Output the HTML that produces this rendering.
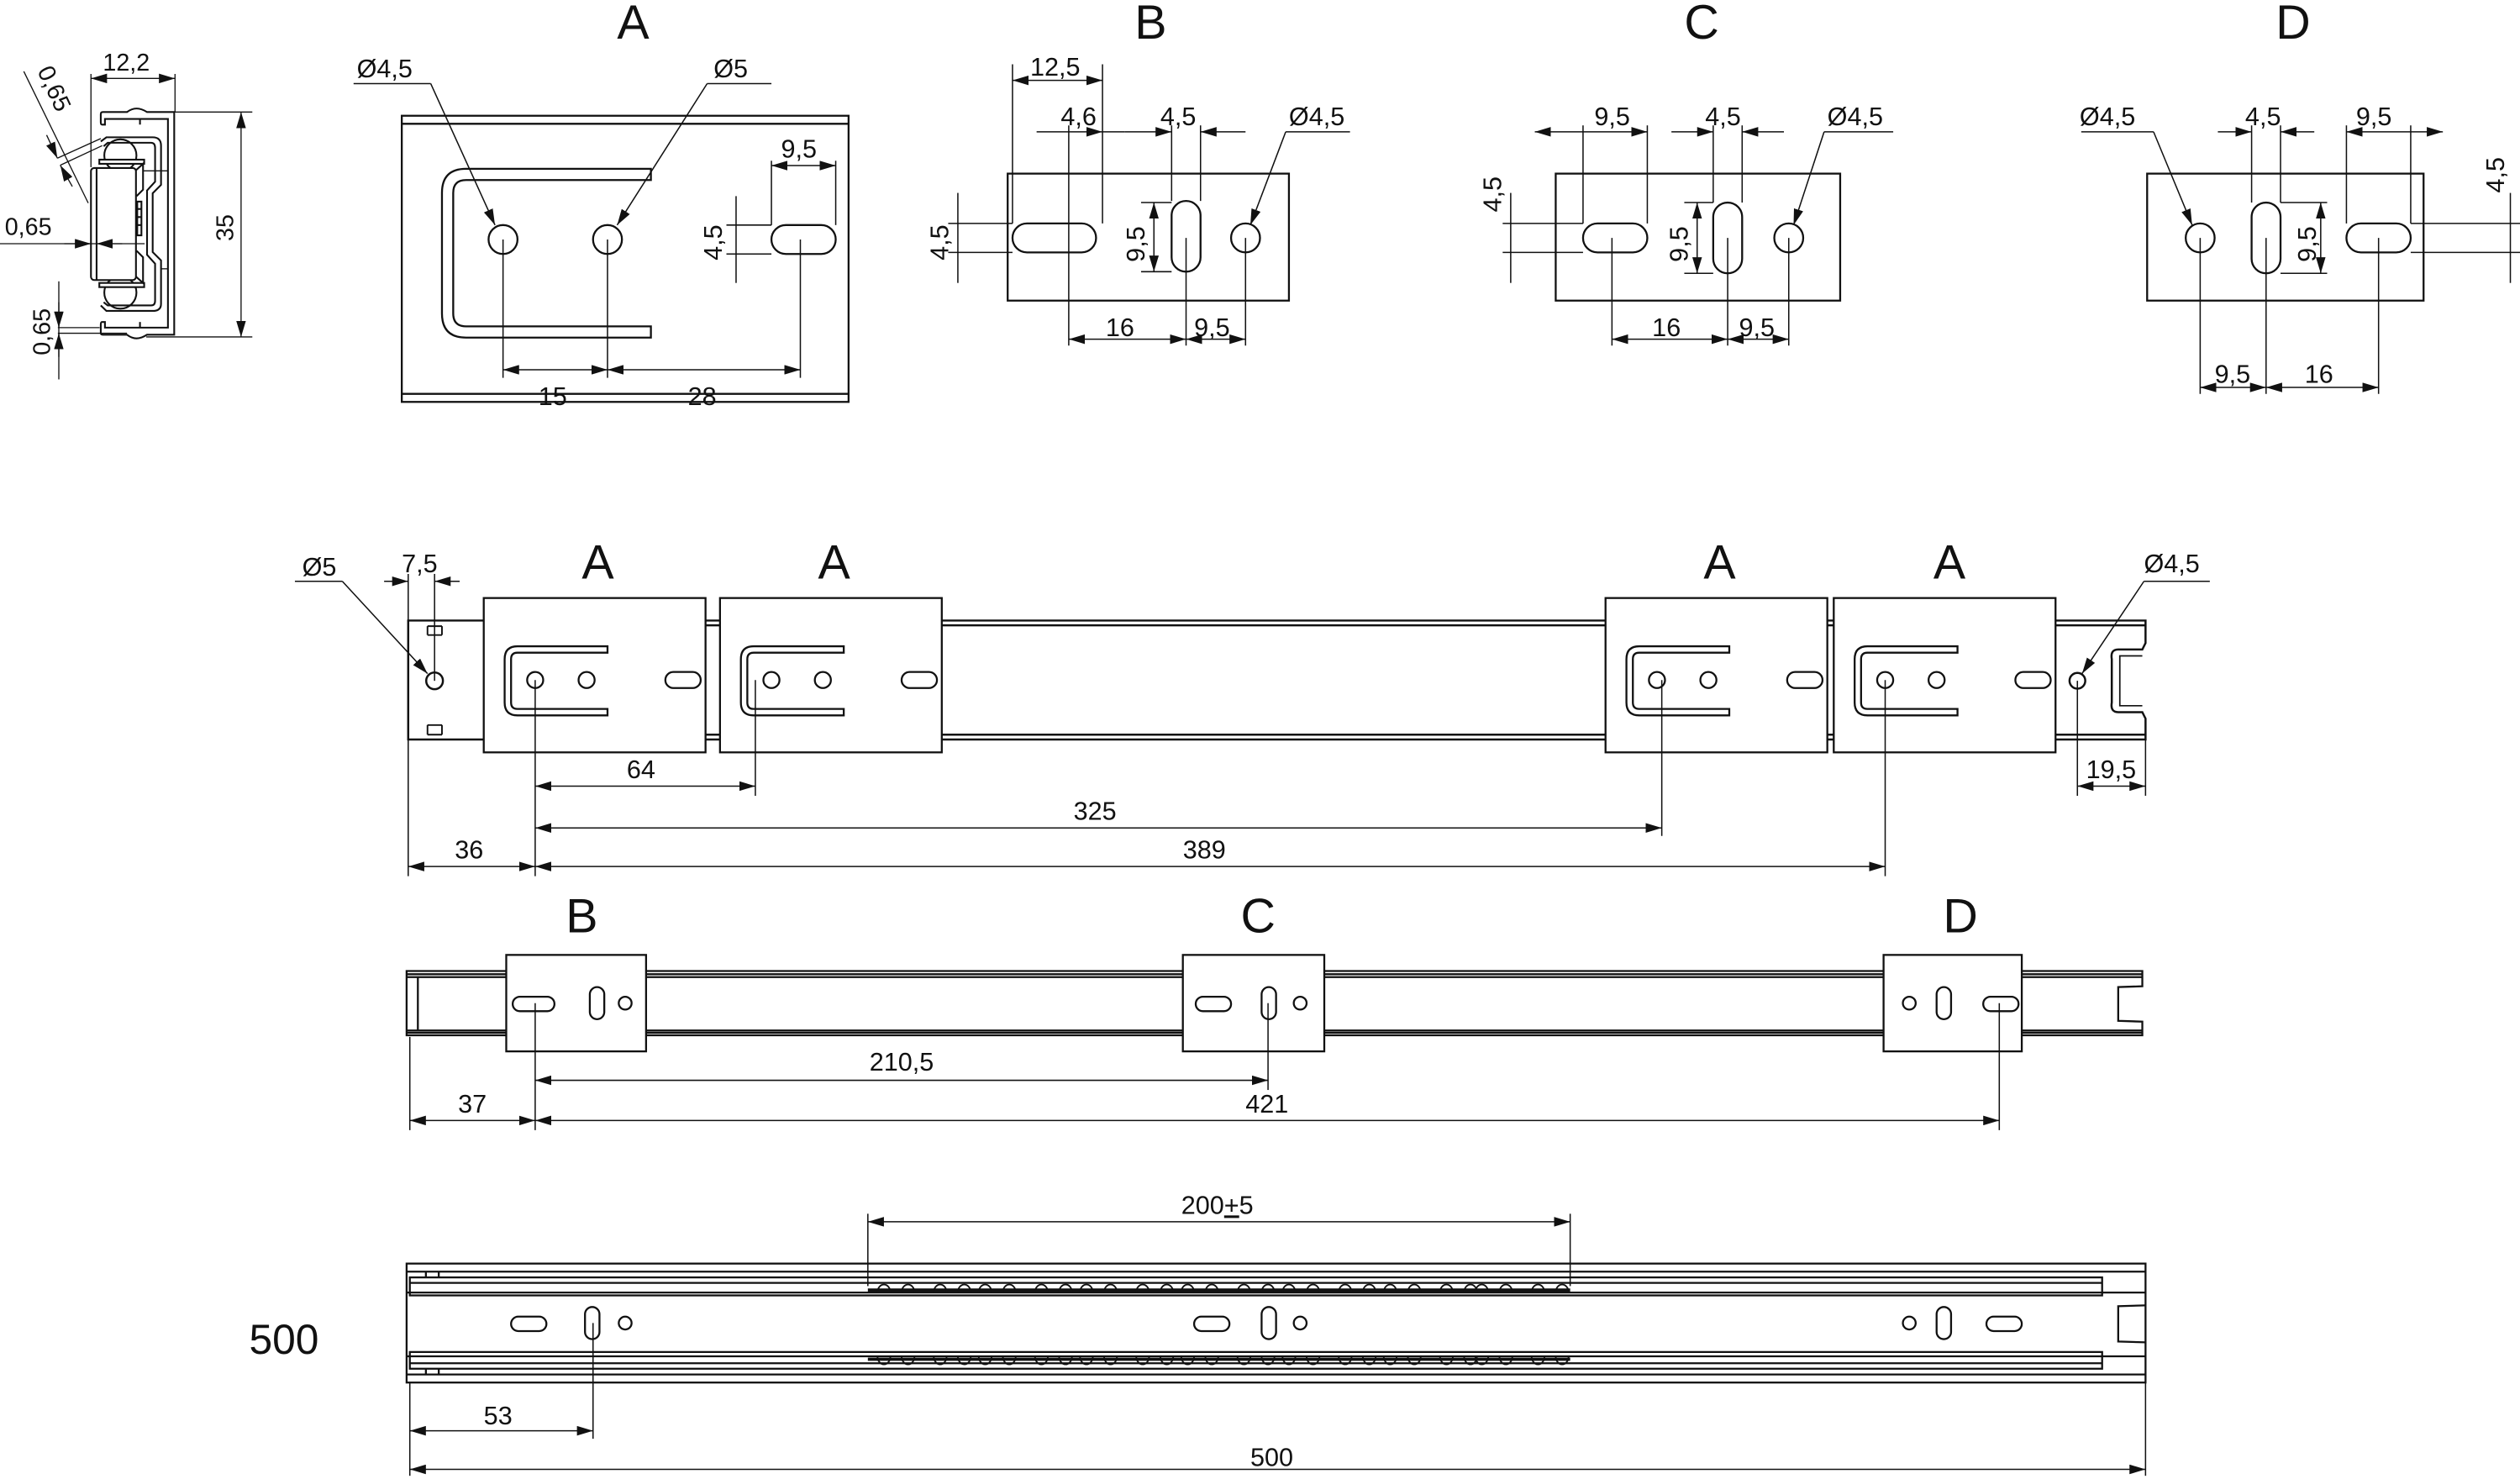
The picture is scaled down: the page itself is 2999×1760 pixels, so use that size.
<!DOCTYPE html>
<html><head><meta charset="utf-8"><style>
html,body{margin:0;padding:0;background:#fff;}
svg{display:block;}
text{font-family:"Liberation Sans",sans-serif;fill:#111;}
</style></head><body>
<svg width="2999" height="1760" viewBox="0 0 1568 920" preserveAspectRatio="none" xmlns="http://www.w3.org/2000/svg">
<defs>
<marker id="a" viewBox="0 0 10 6" refX="10" refY="3" markerWidth="10" markerHeight="6" orient="auto-start-reverse" markerUnits="userSpaceOnUse"><path d="M0,0 L10,3 L0,6 z" fill="#111"/></marker>
</defs>
<!-- profile -->
<g fill="none" stroke="#111" stroke-width="1.1">
<path d="M65.3,77.5 H63.5 Q62.7,77.5 62.7,76 V71 Q62.7,69.7 64,69.7 H79 Q82,67.5 85,67.5 Q88,67.5 91.5,69.7 H108.4 V208.2 H91.5 Q88,210.5 85,210.5 Q82,210.5 79,208.2 H64 Q62.7,208.2 62.7,207 V202 Q62.7,200.3 63.5,200.3 H65.3 V203.8 H104.5 V74 H65.3 Z"/>
<line x1="87.1" y1="74" x2="87.1" y2="77.5"/><line x1="87.1" y1="200.3" x2="87.1" y2="203.8"/>
<path d="M62.7,88 L66.2,85.4 H95 Q100.2,85.4 100.2,90.6 V115 L95,120.2 V156.8 L100.2,162 V189 Q100.2,193.4 95,193.4 H66.2 L62.7,190"/>
<path d="M64.5,91 L67,88.8 H94 Q96.5,88.8 96.5,92 V113 L91.5,118.5 V158.5 L96.5,164 V187 Q96.5,190 94,190 H67 L64.5,188"/>
<circle cx="74.9" cy="96.7" r="10"/><circle cx="74.9" cy="182" r="10"/>
<rect x="56.6" y="104.5" width="28" height="69.7" rx="2" fill="#fff"/>
<line x1="60.1" y1="104.5" x2="60.1" y2="174.2"/>
<rect x="61.8" y="99.3" width="27.9" height="2.6" fill="#fff"/>
<rect x="61.8" y="176" width="27.9" height="2.6" fill="#fff"/>
<path d="M84.5,106 L89,101.9 V118 L85,122"/><path d="M84.5,172 L89,176 V160 L85,156"/>
<rect x="85.4" y="125.4" width="2.6" height="21"/>
<path d="M85.4,130 H88 M85.4,135 H88 M85.4,140 H88"/>
</g>
<g fill="none" stroke="#111" stroke-width="0.7">
<line x1="89" y1="106.3" x2="104.5" y2="106.3"/><line x1="100" y1="167.2" x2="104.5" y2="167.2"/>
<line x1="56.6" y1="46" x2="56.6" y2="104"/><line x1="108.9" y1="46" x2="108.9" y2="69.7"/>
<line x1="56.6" y1="48.8" x2="108.9" y2="48.8" marker-start="url(#a)" marker-end="url(#a)"/>
<line x1="108.4" y1="69.7" x2="157" y2="69.7"/><line x1="91" y1="209.6" x2="157" y2="209.6"/>
<line x1="150" y1="69.7" x2="150" y2="209.6" marker-start="url(#a)" marker-end="url(#a)"/>
<line x1="0" y1="151.6" x2="90" y2="151.6"/>
<line x1="40" y1="151.6" x2="56.6" y2="151.6" marker-end="url(#a)"/><line x1="76" y1="151.6" x2="60.1" y2="151.6" marker-end="url(#a)"/>
<line x1="36.6" y1="175" x2="36.6" y2="236"/>
<line x1="36.6" y1="188" x2="36.6" y2="203.8" marker-end="url(#a)"/><line x1="36.6" y1="222" x2="36.6" y2="207.3" marker-end="url(#a)"/>
<line x1="36" y1="203.8" x2="62" y2="203.8"/><line x1="36" y1="207.3" x2="79" y2="207.3"/>
<line x1="14.8" y1="44.4" x2="54.9" y2="126.3"/>
<line x1="29" y1="84" x2="35.7" y2="98.4" marker-end="url(#a)"/><line x1="45" y1="116" x2="37.5" y2="102.8" marker-end="url(#a)"/>
<line x1="35.7" y1="98.4" x2="62.7" y2="86.2"/><line x1="37.5" y1="102.8" x2="63.6" y2="90.6"/>
</g>
<g font-size="15">
<text x="64" y="44">12,2</text>
<text x="3" y="146">0,65</text>
<text transform="translate(145,150) rotate(-90)">35</text>
<text transform="translate(31,221) rotate(-90)">0,65</text>
<text transform="translate(23,44) rotate(65)">0,65</text>
</g>

<!-- Detail A -->
<text x="384" y="24" font-size="30">A</text>
<g fill="none" stroke="#111" stroke-width="1.2">
<rect x="250" y="72" width="278" height="178"/>
<line x1="250" y1="77" x2="528" y2="77"/><line x1="250" y1="245" x2="528" y2="245"/>
<path d="M405,105 H290 Q275,105 275,120 V195 Q275,210 290,210 H405 V203 H290 Q282,203 282,195 V120 Q282,112 290,112 H405 Z"/>
<circle cx="313" cy="149" r="9"/><circle cx="378" cy="149" r="9"/>
<rect x="480" y="140" width="40" height="18" rx="9"/>
</g>
<g fill="none" stroke="#111" stroke-width="0.8">
<line x1="313" y1="149" x2="313" y2="235"/><line x1="378" y1="149" x2="378" y2="235"/><line x1="498" y1="149" x2="498" y2="235"/>
<line x1="313" y1="230" x2="378" y2="230" marker-start="url(#a)" marker-end="url(#a)"/>
<line x1="378" y1="230" x2="498" y2="230" marker-start="url(#a)" marker-end="url(#a)"/>
<line x1="480" y1="100" x2="480" y2="140"/><line x1="520" y1="100" x2="520" y2="140"/>
<line x1="480" y1="103" x2="520" y2="103" marker-start="url(#a)" marker-end="url(#a)"/>
<line x1="452" y1="140" x2="480" y2="140"/><line x1="452" y1="158" x2="480" y2="158"/>
<line x1="458" y1="122" x2="458" y2="176"/>
<line x1="220" y1="52" x2="268" y2="52"/><line x1="268" y1="52" x2="308" y2="140" marker-end="url(#a)"/>
<line x1="440" y1="52" x2="480" y2="52"/><line x1="440" y1="52" x2="384" y2="140" marker-end="url(#a)"/>
</g>
<g font-size="16">
<text x="222" y="48">Ø4,5</text><text x="444" y="48">Ø5</text>
<text x="335" y="252">15</text><text x="428" y="252">28</text>
<text x="486" y="98">9,5</text>
<text transform="translate(449,162) rotate(-90)">4,5</text>
</g>

<!-- Detail B -->
<text x="706" y="24" font-size="30">B</text>
<g fill="none" stroke="#111" stroke-width="1.2">
<rect x="627" y="108" width="175" height="79"/>
<rect x="630" y="139" width="52" height="18" rx="9"/>
<rect x="729" y="125" width="18" height="44" rx="9"/>
<circle cx="775" cy="148" r="9"/>
</g>
<g fill="none" stroke="#111" stroke-width="0.8">
<line x1="630" y1="40" x2="630" y2="139"/><line x1="686" y1="40" x2="686" y2="139"/>
<line x1="630" y1="50" x2="686" y2="50" marker-start="url(#a)" marker-end="url(#a)"/>
<line x1="665" y1="78" x2="665" y2="215"/>
<line x1="645" y1="82" x2="686" y2="82" marker-end="url(#a)"/><line x1="686" y1="82" x2="700" y2="82"/>
<line x1="729" y1="78" x2="729" y2="125"/><line x1="747" y1="78" x2="747" y2="125"/>
<line x1="700" y1="82" x2="729" y2="82" marker-end="url(#a)"/><line x1="747" y1="82" x2="775" y2="82" marker-start="url(#a)"/>
<line x1="738" y1="148" x2="738" y2="215"/><line x1="775" y1="148" x2="775" y2="215"/>
<line x1="665" y1="211" x2="738" y2="211" marker-start="url(#a)" marker-end="url(#a)"/>
<line x1="738" y1="211" x2="775" y2="211" marker-start="url(#a)" marker-end="url(#a)"/>
<line x1="590" y1="139" x2="630" y2="139"/><line x1="590" y1="157" x2="630" y2="157"/>
<line x1="596" y1="120" x2="596" y2="176"/>
<line x1="710" y1="126" x2="729" y2="126"/><line x1="710" y1="169" x2="729" y2="169"/>
<line x1="718" y1="126" x2="718" y2="169" marker-start="url(#a)" marker-end="url(#a)"/>
<line x1="800" y1="82" x2="840" y2="82"/><line x1="800" y1="82" x2="778" y2="140" marker-end="url(#a)"/>
</g>
<g font-size="16">
<text x="641" y="47">12,5</text><text x="660" y="78">4,6</text><text x="722" y="78">4,5</text>
<text x="802" y="78">Ø4,5</text>
<text x="688" y="209">16</text><text x="743" y="209">9,5</text>
<text transform="translate(590,162) rotate(-90)">4,5</text>
<text transform="translate(712,163) rotate(-90)">9,5</text>
</g>

<!-- Detail C -->
<text x="1048" y="24" font-size="30">C</text>
<g fill="none" stroke="#111" stroke-width="1.2">
<rect x="968" y="108" width="177" height="79"/>
<rect x="985" y="139" width="40" height="18" rx="9"/>
<rect x="1066" y="126" width="18" height="44" rx="9"/>
<circle cx="1113" cy="148" r="9"/>
</g>
<g fill="none" stroke="#111" stroke-width="0.8">
<line x1="985" y1="78" x2="985" y2="139"/><line x1="1025" y1="78" x2="1025" y2="139"/>
<line x1="955" y1="82" x2="1025" y2="82" marker-start="url(#a)" marker-end="url(#a)"/>
<line x1="1066" y1="78" x2="1066" y2="126"/><line x1="1084" y1="78" x2="1084" y2="126"/>
<line x1="1040" y1="82" x2="1066" y2="82" marker-end="url(#a)"/><line x1="1084" y1="82" x2="1110" y2="82" marker-start="url(#a)"/>
<line x1="1003" y1="148" x2="1003" y2="215"/><line x1="1075" y1="148" x2="1075" y2="215"/><line x1="1113" y1="148" x2="1113" y2="215"/>
<line x1="1003" y1="211" x2="1075" y2="211" marker-start="url(#a)" marker-end="url(#a)"/>
<line x1="1075" y1="211" x2="1113" y2="211" marker-start="url(#a)" marker-end="url(#a)"/>
<line x1="935" y1="139" x2="985" y2="139"/><line x1="935" y1="157" x2="985" y2="157"/>
<line x1="940" y1="120" x2="940" y2="176"/>
<line x1="1048" y1="126" x2="1066" y2="126"/><line x1="1048" y1="170" x2="1066" y2="170"/>
<line x1="1056" y1="126" x2="1056" y2="170" marker-start="url(#a)" marker-end="url(#a)"/>
<line x1="1135" y1="82" x2="1178" y2="82"/><line x1="1135" y1="82" x2="1116" y2="140" marker-end="url(#a)"/>
</g>
<g font-size="16">
<text x="992" y="78">9,5</text><text x="1061" y="78">4,5</text><text x="1137" y="78">Ø4,5</text>
<text x="1028" y="209">16</text><text x="1082" y="209">9,5</text>
<text transform="translate(934,132) rotate(-90)">4,5</text>
<text transform="translate(1050,163) rotate(-90)">9,5</text>
</g>

<!-- Detail D -->
<text x="1416" y="24" font-size="30">D</text>
<g fill="none" stroke="#111" stroke-width="1.2">
<rect x="1336" y="108" width="172" height="79"/>
<circle cx="1369" cy="148" r="9"/>
<rect x="1401" y="126" width="18" height="44" rx="9"/>
<rect x="1460" y="139" width="40" height="18" rx="9"/>
</g>
<g fill="none" stroke="#111" stroke-width="0.8">
<line x1="1401" y1="78" x2="1401" y2="126"/><line x1="1419" y1="78" x2="1419" y2="126"/>
<line x1="1380" y1="82" x2="1401" y2="82" marker-end="url(#a)"/><line x1="1419" y1="82" x2="1440" y2="82" marker-start="url(#a)"/>
<line x1="1460" y1="78" x2="1460" y2="139"/><line x1="1500" y1="78" x2="1500" y2="139"/>
<line x1="1460" y1="82" x2="1520" y2="82" marker-start="url(#a)" marker-end="url(#a)"/>
<line x1="1369" y1="148" x2="1369" y2="245"/><line x1="1410" y1="148" x2="1410" y2="245"/><line x1="1480" y1="148" x2="1480" y2="245"/>
<line x1="1369" y1="241" x2="1410" y2="241" marker-start="url(#a)" marker-end="url(#a)"/>
<line x1="1410" y1="241" x2="1480" y2="241" marker-start="url(#a)" marker-end="url(#a)"/>
<line x1="1500" y1="139" x2="1568" y2="139"/><line x1="1500" y1="157" x2="1568" y2="157"/>
<line x1="1562" y1="120" x2="1562" y2="176"/>
<line x1="1419" y1="126" x2="1448" y2="126"/><line x1="1419" y1="170" x2="1448" y2="170"/>
<line x1="1444" y1="126" x2="1444" y2="170" marker-start="url(#a)" marker-end="url(#a)"/>
<line x1="1295" y1="82" x2="1340" y2="82"/><line x1="1340" y1="82" x2="1364" y2="140" marker-end="url(#a)"/>
</g>
<g font-size="16">
<text x="1294" y="78">Ø4,5</text><text x="1397" y="78">4,5</text><text x="1466" y="78">9,5</text>
<text x="1378" y="238">9,5</text><text x="1434" y="238">16</text>
<text transform="translate(1558,120) rotate(-90)">4,5</text>
<text transform="translate(1441,163) rotate(-90)">9,5</text>
</g>

<!-- Rail 1 -->
<g font-size="30"><text x="362" y="360">A</text><text x="509" y="360">A</text><text x="1060" y="360">A</text><text x="1203" y="360">A</text></g>
<g fill="none" stroke="#111" stroke-width="1.3">
<path d="M254,386 H1335 V400 L1333,404 H1318 Q1313,404 1314,410 V437 Q1313,443 1318,443 H1333 L1335,447 V460 H254 Z"/>
<line x1="301" y1="389" x2="1335" y2="389"/><line x1="301" y1="457" x2="1335" y2="457"/>
<path d="M1333,408 H1319 V439 H1333" stroke-width="0.9"/>
<circle cx="270.4" cy="423.5" r="5.2"/>
<path d="M266,389.5 H275 M266,395 H275 M266,389.5 V395 M275,389.5 V395" stroke-width="1"/>
<path d="M266,451 H275 M266,457 H275 M266,451 V457 M275,451 V457" stroke-width="1"/>
<circle cx="1292.6" cy="423.5" r="4.9"/>
</g>
<g fill="#fff" stroke="#111" stroke-width="1.2">
<g id="ba">
<rect x="301" y="372" width="138" height="96"/>
<path d="M378,402 H322 Q314,402 314,410 V437 Q314,445 322,445 H378 V441 H322 Q318,441 318,437 V410 Q318,406 322,406 H378 Z" fill="none"/>
<circle cx="333" cy="423" r="5" fill="none"/><circle cx="365" cy="423" r="5" fill="none"/>
<rect x="414" y="418" width="22" height="10" rx="5" fill="none"/>
</g>
<use href="#ba" x="147"/><use href="#ba" x="698"/><use href="#ba" x="840"/>
</g>
<g fill="none" stroke="#111" stroke-width="0.8">
<line x1="254" y1="357" x2="254" y2="545"/><line x1="270.4" y1="357" x2="270.4" y2="423.5"/>
<line x1="333" y1="423" x2="333" y2="545"/><line x1="470" y1="423" x2="470" y2="495"/>
<line x1="1034" y1="423" x2="1034" y2="520"/><line x1="1173" y1="423" x2="1173" y2="545"/>
<line x1="333" y1="489" x2="470" y2="489" marker-start="url(#a)" marker-end="url(#a)"/>
<line x1="333" y1="515" x2="1034" y2="515" marker-start="url(#a)" marker-end="url(#a)"/>
<line x1="333" y1="539" x2="1173" y2="539" marker-start="url(#a)" marker-end="url(#a)"/>
<line x1="254" y1="539" x2="333" y2="539" marker-start="url(#a)" marker-end="url(#a)"/>
<line x1="1292.6" y1="423.5" x2="1292.6" y2="495"/><line x1="1335" y1="460" x2="1335" y2="495"/>
<line x1="1292.6" y1="489" x2="1335" y2="489" marker-start="url(#a)" marker-end="url(#a)"/>
<line x1="239" y1="361.6" x2="254" y2="361.6" marker-end="url(#a)"/>
<line x1="286" y1="361.6" x2="270.4" y2="361.6" marker-end="url(#a)"/>
<line x1="183.5" y1="361.6" x2="213" y2="361.6"/><line x1="213" y1="361.6" x2="266" y2="419" marker-end="url(#a)"/>
<line x1="1375" y1="361.6" x2="1334" y2="361.6"/><line x1="1334" y1="361.6" x2="1295.5" y2="419" marker-end="url(#a)"/>
</g>
<g font-size="16">
<text x="188" y="358">Ø5</text><text x="250" y="356">7,5</text><text x="1334" y="356">Ø4,5</text>
<text x="390" y="484">64</text><text x="668" y="510">325</text><text x="736" y="534">389</text><text x="283" y="534">36</text>
<text x="1298" y="484">19,5</text>
</g>

<!-- Rail 2 -->
<g font-size="30"><text x="352" y="580">B</text><text x="772" y="580">C</text><text x="1209" y="580">D</text></g>
<g fill="none" stroke="#111" stroke-width="1.2">
<path d="M253,604 H1333 V613.5 L1318,614 V635 L1333,635.5 V644 H253 Z"/>
<line x1="253" y1="606" x2="1333" y2="606"/><line x1="253" y1="607.8" x2="1333" y2="607.8"/>
<line x1="253" y1="641" x2="1333" y2="641"/><line x1="253" y1="642.4" x2="1333" y2="642.4"/>
<line x1="260" y1="608" x2="260" y2="641"/>
</g>
<g fill="#fff" stroke="#111" stroke-width="1.2">
<rect x="315" y="594" width="87" height="60"/>
<rect x="319" y="620" width="26" height="9" rx="4.5" fill="none"/><rect x="367" y="614" width="9" height="20" rx="4.5" fill="none"/><circle cx="389" cy="624" r="4" fill="none"/>
<rect x="736" y="594" width="88" height="60"/>
<rect x="744" y="620" width="22" height="9" rx="4.5" fill="none"/><rect x="785" y="614" width="9" height="20" rx="4.5" fill="none"/><circle cx="809" cy="624" r="4" fill="none"/>
<rect x="1172" y="594" width="86" height="60"/>
<circle cx="1188" cy="624" r="4" fill="none"/><rect x="1205" y="614" width="9" height="20" rx="4.5" fill="none"/><rect x="1234" y="620" width="22" height="9" rx="4.5" fill="none"/>
</g>
<g fill="none" stroke="#111" stroke-width="0.8">
<line x1="255" y1="645" x2="255" y2="703"/><line x1="333" y1="624" x2="333" y2="703"/><line x1="789" y1="624" x2="789" y2="678"/><line x1="1244" y1="624" x2="1244" y2="703"/>
<line x1="333" y1="672" x2="789" y2="672" marker-start="url(#a)" marker-end="url(#a)"/>
<line x1="333" y1="697" x2="1244" y2="697" marker-start="url(#a)" marker-end="url(#a)"/>
<line x1="255" y1="697" x2="333" y2="697" marker-start="url(#a)" marker-end="url(#a)"/>
</g>
<g font-size="16"><text x="541" y="666">210,5</text><text x="775" y="692">421</text><text x="285" y="692">37</text></g>

<!-- Rail 3 -->
<text x="155" y="842" font-size="26">500</text>
<g fill="none" stroke="#111" stroke-width="1.2">
<rect x="253" y="786" width="1082" height="74"/>
<line x1="253" y1="791" x2="1335" y2="791"/><line x1="253" y1="855" x2="1335" y2="855"/>
<rect x="255" y="794.6" width="1053" height="11.2"/><line x1="255" y1="798" x2="1308" y2="798"/>
<rect x="255" y="841" width="1053" height="10.4"/><line x1="255" y1="848" x2="1308" y2="848"/>
<line x1="253" y1="804" x2="1335" y2="804"/><line x1="253" y1="843.7" x2="1335" y2="843.7"/>
<path d="M265,791 V794.6 M273,791 V794.6 M265,851.4 V855 M273,851.4 V855"/>
<path d="M1335,812 H1318 V835 H1335" stroke="#fff" stroke-width="0"/>
<path d="M1335,812 L1318,812.5 V834.5 L1335,835"/>
<rect x="318" y="819" width="22" height="9" rx="4.5"/><rect x="364" y="813" width="9" height="20" rx="4.5"/><circle cx="389" cy="823" r="4"/>
<rect x="743" y="819" width="22" height="9" rx="4.5"/><rect x="785" y="813" width="9" height="20" rx="4.5"/><circle cx="809" cy="823" r="4"/>
<circle cx="1188" cy="823" r="4"/><rect x="1205" y="813" width="9" height="20" rx="4.5"/><rect x="1236" y="819" width="22" height="9" rx="4.5"/>
</g>
<g fill="none" stroke="#111" stroke-width="1">
<path d="M540,802.5 H977 M540,845.5 H977" stroke-width="2"/>
<g id="bb"><path d="M546,804 A4,5 0 0 1 554,804 M561,804 A4,5 0 0 1 569,804 M581,804 A4,5 0 0 1 589,804 M596,804 A4,5 0 0 1 604,804"/></g>
<use href="#bb" x="63"/><use href="#bb" x="126"/><use href="#bb" x="189"/><use href="#bb" x="252"/><use href="#bb" x="315"/><use href="#bb" x="372"/>
<g id="bc"><path d="M546,843.7 A4,5 0 0 0 554,843.7 M561,843.7 A4,5 0 0 0 569,843.7 M581,843.7 A4,5 0 0 0 589,843.7 M596,843.7 A4,5 0 0 0 604,843.7"/></g>
<use href="#bc" x="63"/><use href="#bc" x="126"/><use href="#bc" x="189"/><use href="#bc" x="252"/><use href="#bc" x="315"/><use href="#bc" x="372"/>
</g>
<g fill="none" stroke="#111" stroke-width="0.8">
<line x1="540" y1="755" x2="540" y2="800"/><line x1="977" y1="755" x2="977" y2="800"/>
<line x1="540" y1="760" x2="977" y2="760" marker-start="url(#a)" marker-end="url(#a)"/>
<line x1="255" y1="860" x2="255" y2="918"/><line x1="369" y1="823" x2="369" y2="895"/><line x1="1335" y1="860" x2="1335" y2="918"/>
<line x1="255" y1="890" x2="369" y2="890" marker-start="url(#a)" marker-end="url(#a)"/>
<line x1="255" y1="914" x2="1335" y2="914" marker-start="url(#a)" marker-end="url(#a)"/>
</g>
<g font-size="16"><text x="735" y="755">200<tspan text-decoration="underline">+</tspan>5</text><text x="301" y="886">53</text><text x="778" y="912">500</text></g>
</svg>
</body></html>
